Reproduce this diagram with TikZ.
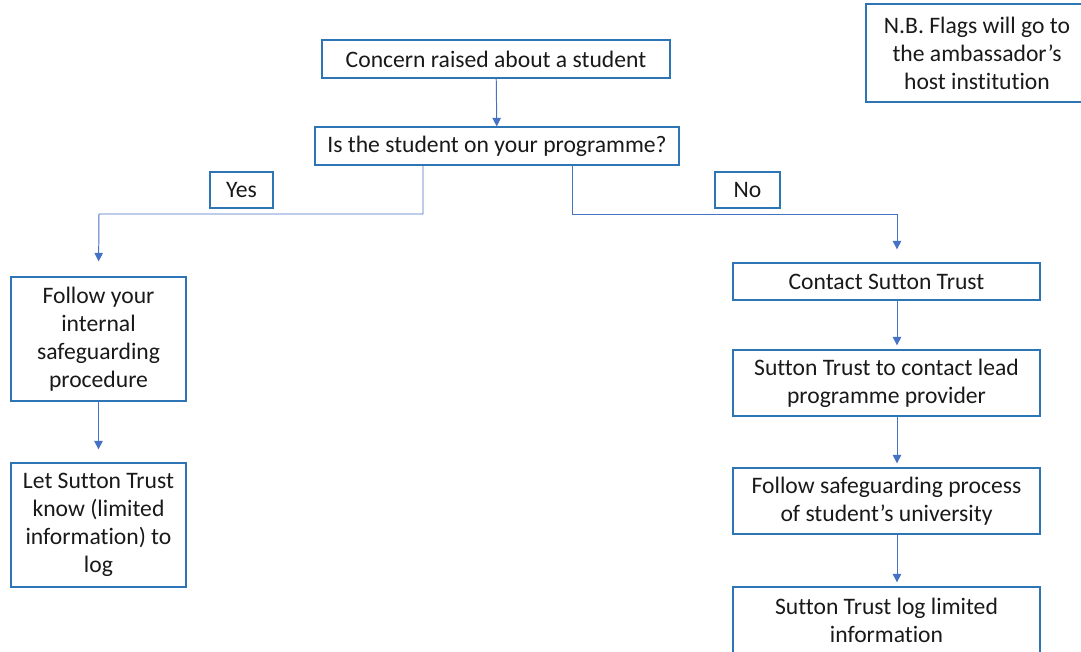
\documentclass[tikz,border=0pt]{standalone}
\usepackage{fontspec}
\setmainfont{Carlito}[Ligatures=NoCommon]
\usetikzlibrary{arrows.meta,positioning}
\definecolor{boxblue}{RGB}{46,117,182}
\definecolor{lineblue}{RGB}{68,114,196}
\tikzset{
  box/.style={draw=boxblue, line width=0.9pt, align=center, inner sep=0pt,
    font=\fontsize{16.8pt}{19.9pt}\selectfont, text=black!90},
  flow/.style={draw=lineblue, line width=0.7pt, -{Triangle[length=6pt,width=6pt]}}
}
\begin{document}
\begin{tikzpicture}[x=0.025cm,y=-0.025cm]
        \useasboundingbox (0,0) rectangle (1081,652);
        \clip (0,0) rectangle (1081,652);
        % boxes
        \node[box, minimum width=8.7cm, minimum height=0.95cm] (concern) at (496,59) {Concern raised about a student};
        \node[box, minimum width=9.1cm, minimum height=0.95cm] (question) at (497,146) {Is the student on your programme?};
        \node[box, minimum width=1.575cm, minimum height=0.9cm] (yes) at (241.5,190) {Yes};
        \node[box, minimum width=1.625cm, minimum height=0.9cm] (no) at (747.5,190) {No};
        \node[box, minimum width=4.375cm, minimum height=3.1cm] (follow) at (98.5,339) {Follow your\\internal\\safeguarding\\procedure};
        \node[box, minimum width=4.375cm, minimum height=3.1cm] (letknow) at (98.5,525) {Let Sutton Trust\\know (limited\\information) to\\log};
        \node[box, minimum width=7.675cm, minimum height=0.925cm] (contact) at (886.5,281.5) {Contact Sutton Trust};
        \node[box, minimum width=7.675cm, minimum height=1.65cm] (provider) at (886.5,383) {Sutton Trust to contact lead\\programme provider};
        \node[box, minimum width=7.675cm, minimum height=1.65cm] (process) at (886.5,501) {Follow safeguarding process\\of student’s university};
        \node[box, minimum width=7.675cm, minimum height=1.65cm] (stlog) at (886.5,620) {Sutton Trust log limited\\information};
        \node[box, minimum width=5.55cm, minimum height=2.45cm] (nb) at (977,53) {N.B. Flags will go to\\the ambassador’s\\host institution};
        % arrows
        \draw[flow] (concern) -- (question);
        \draw[flow, shorten >=0.375cm] (question.south -| 423,0) |- (99,214) -- (follow.north);
        \draw[flow, shorten >=0.325cm] (question.south -| 572,0) |- (897,214) -- (contact.north -| 897,0);
        \draw[flow, shorten >=0.325cm] (follow) -- (letknow);
        \draw[flow, shorten >=0.1cm] (contact.south -| 897,0) -- (provider.north -| 897,0);
        \draw[flow, shorten >=0.1cm] (provider.south -| 897,0) -- (process.north -| 897,0);
        \draw[flow, shorten >=0.1cm] (process.south -| 897,0) -- (stlog.north -| 897,0);
      \end{tikzpicture}
\end{document}
